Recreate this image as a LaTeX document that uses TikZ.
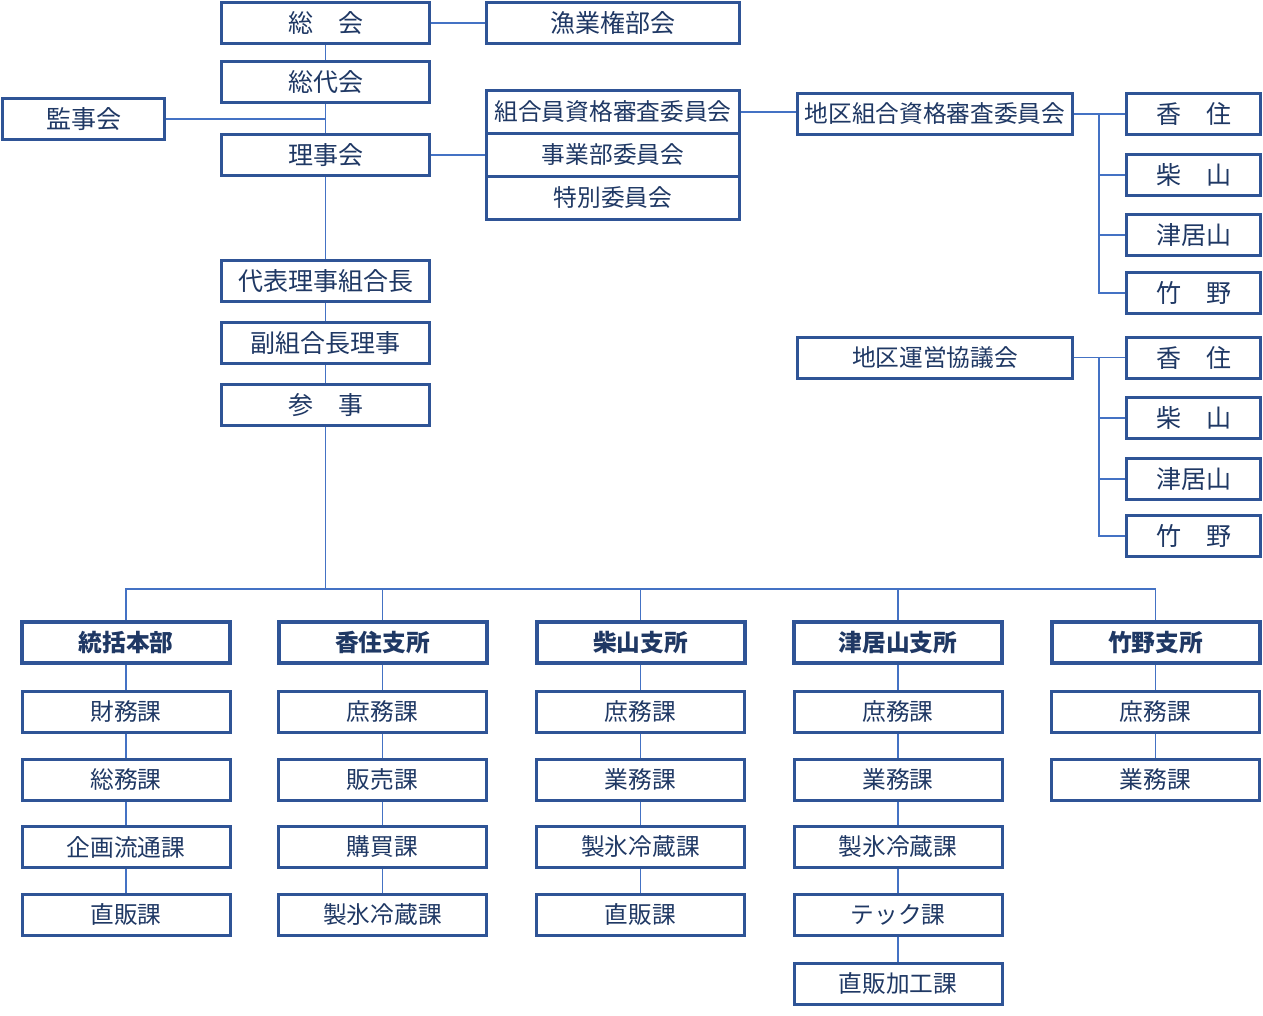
\documentclass[tikz,border=0pt]{standalone}
\usepackage{fontspec}
\setmainfont{Noto Sans CJK JP}
\usepackage{tikz}

\definecolor{boxblue}{HTML}{2F5496}
\definecolor{lineblue}{HTML}{4472C4}
\definecolor{textblue}{HTML}{1F3864}

\begin{document}
\begin{tikzpicture}[x=1pt,y=-1pt]
  \tikzset{BoxStyle/.style = {
    shape         = rectangle,
    draw          = boxblue,
    fill          = white,
    line width    = 3pt,
    text          = textblue,
    font          = \fontsize{23.7pt}{24pt}\selectfont,
    inner sep     = 0pt,
    minimum width = 208pt,
    minimum height= 41pt
    }
  }
  \tikzset{BigBoxStyle/.style = {
    BoxStyle,
    font          = \fontsize{25pt}{26pt}\selectfont
    }
  }
  \tikzset{HeadStyle/.style = {
    BoxStyle,
    line width    = 4pt,
    minimum width = 208pt,
    font          = \fontsize{23.7pt}{24pt}\selectfont\bfseries
    }
  }
  \tikzset{EdgeStyle/.style = {
    draw          = lineblue,
    line width    = 1.2pt
    }
  }
  \useasboundingbox (0,0) rectangle (1263,1015);

	\node[BigBoxStyle](A1) at (325.5, 23) {総　会};
	\node[BigBoxStyle, minimum width=253pt](A2) at (613, 23) {漁業権部会};
	\node[BigBoxStyle](B1) at (325.5, 82) {総代会};
	\node[BigBoxStyle, minimum width=162pt](B2) at (83.5, 119) {監事会};
	\node[BigBoxStyle](B3) at (325.5, 155) {理事会};
	\node[BoxStyle, minimum width=253pt, minimum height=43pt](C1) at (613, 112) {組合員資格審査委員会};
	\node[BoxStyle, minimum width=253pt, minimum height=43pt](C2) at (613, 155) {事業部委員会};
	\node[BoxStyle, minimum width=253pt, minimum height=43pt](C3) at (613, 198) {特別委員会};
	\node[BoxStyle, minimum width=275pt](D1) at (935, 114) {地区組合資格審査委員会};
	\node[BigBoxStyle, minimum width=134pt](D2) at (1193.5, 114) {香　住};
	\node[BigBoxStyle, minimum width=134pt](D3) at (1193.5, 175) {柴　山};
	\node[BigBoxStyle, minimum width=134pt](D4) at (1193.5, 235) {津居山};
	\node[BigBoxStyle, minimum width=134pt](D5) at (1193.5, 293) {竹　野};
	\node[BoxStyle, minimum width=275pt](E1) at (935, 357.5) {地区運営協議会};
	\node[BigBoxStyle, minimum width=134pt](E2) at (1193.5, 357.5) {香　住};
	\node[BigBoxStyle, minimum width=134pt](E3) at (1193.5, 418) {柴　山};
	\node[BigBoxStyle, minimum width=134pt](E4) at (1193.5, 479) {津居山};
	\node[BigBoxStyle, minimum width=134pt](E5) at (1193.5, 536) {竹　野};
	\node[BigBoxStyle](F1) at (325.5, 281) {代表理事組合長};
	\node[BigBoxStyle](F2) at (325.5, 343) {副組合長理事};
	\node[BigBoxStyle](F3) at (325.5, 405) {参　事};
	\coordinate (Q) at (325.5, 589);
	\coordinate (T1) at (1099, 114);
	\coordinate (T2) at (1099, 357.5);

	\node[HeadStyle](H1) at (126, 642.5) {統括本部};
	\node[HeadStyle](H2) at (382.5, 642.5) {香住支所};
	\node[HeadStyle](H3) at (640.5, 642.5) {柴山支所};
	\node[HeadStyle](H4) at (898, 642.5) {津居山支所};
	\node[HeadStyle](H5) at (1155.5, 642.5) {竹野支所};
	\node[BoxStyle](I1) at (126, 711.5) {財務課};
	\node[BoxStyle](I2) at (126, 779.5) {総務課};
	\node[BoxStyle](I3) at (126, 847) {企画流通課};
	\node[BoxStyle](I4) at (126, 914.5) {直販課};
	\node[BoxStyle](J1) at (382.5, 711.5) {庶務課};
	\node[BoxStyle](J2) at (382.5, 779.5) {販売課};
	\node[BoxStyle](J3) at (382.5, 847) {購買課};
	\node[BoxStyle](J4) at (382.5, 914.5) {製氷冷蔵課};
	\node[BoxStyle](K1) at (640.5, 711.5) {庶務課};
	\node[BoxStyle](K2) at (640.5, 779.5) {業務課};
	\node[BoxStyle](K3) at (640.5, 847) {製氷冷蔵課};
	\node[BoxStyle](K4) at (640.5, 914.5) {直販課};
	\node[BoxStyle](L1) at (898, 711.5) {庶務課};
	\node[BoxStyle](L2) at (898, 779.5) {業務課};
	\node[BoxStyle](L3) at (898, 847) {製氷冷蔵課};
	\node[BoxStyle](L4) at (898, 914.5) {テック課};
	\node[BoxStyle](L5) at (898, 983.5) {直販加工課};
	\node[BoxStyle](M1) at (1155.5, 711.5) {庶務課};
	\node[BoxStyle](M2) at (1155.5, 779.5) {業務課};

	\draw[EdgeStyle](A1) to (A2);
	\draw[EdgeStyle](A1) to (B1);
	\draw[EdgeStyle](B1) to (B3);
	\draw[EdgeStyle](B2.east) -- (B2.east -| B1.south);
	\draw[EdgeStyle](B3) to (C2);
	\draw[EdgeStyle](C1.east) -- (C1.east -| D1.west);
	\draw[EdgeStyle](D1) to (D2);
	\draw[EdgeStyle](T1) |- (D3.west);
	\draw[EdgeStyle](T1) |- (D4.west);
	\draw[EdgeStyle](T1) |- (D5.west);
	\draw[EdgeStyle](E1) to (E2);
	\draw[EdgeStyle](T2) |- (E3.west);
	\draw[EdgeStyle](T2) |- (E4.west);
	\draw[EdgeStyle](T2) |- (E5.west);
	\draw[EdgeStyle](B3) to (F1);
	\draw[EdgeStyle](F1) to (F2);
	\draw[EdgeStyle](F2) to (F3);
	\draw[EdgeStyle](F3) to (Q);
	\draw[EdgeStyle](Q) -| (H1.north);
	\draw[EdgeStyle](Q) -| (H2.north);
	\draw[EdgeStyle](Q) -| (H3.north);
	\draw[EdgeStyle](Q) -| (H4.north);
	\draw[EdgeStyle](Q) -| (H5.north);
	\draw[EdgeStyle](H1) to (I1);
	\draw[EdgeStyle](I1) to (I2);
	\draw[EdgeStyle](I2) to (I3);
	\draw[EdgeStyle](I3) to (I4);
	\draw[EdgeStyle](H2) to (J1);
	\draw[EdgeStyle](J1) to (J2);
	\draw[EdgeStyle](J2) to (J3);
	\draw[EdgeStyle](J3) to (J4);
	\draw[EdgeStyle](H3) to (K1);
	\draw[EdgeStyle](K1) to (K2);
	\draw[EdgeStyle](K2) to (K3);
	\draw[EdgeStyle](K3) to (K4);
	\draw[EdgeStyle](H4) to (L1);
	\draw[EdgeStyle](L1) to (L2);
	\draw[EdgeStyle](L2) to (L3);
	\draw[EdgeStyle](L3) to (L4);
	\draw[EdgeStyle](L4) to (L5);
	\draw[EdgeStyle](H5) to (M1);
	\draw[EdgeStyle](M1) to (M2);

  \end{tikzpicture}
\end{document}
